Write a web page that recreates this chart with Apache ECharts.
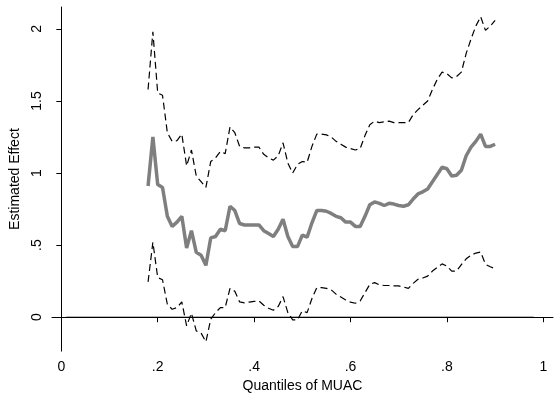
<!DOCTYPE html>
<html>
<head>
<meta charset="utf-8">
<script src="https://cdn.jsdelivr.net/npm/echarts@6/dist/echarts.min.js"></script>
<style>
html,body{margin:0;padding:0;background:#fff;}
#c{width:557px;height:398px;}
</style>
</head>
<body>
<div id="c"></div>
<script>
var quantiles = [0.18,0.19,0.20,0.21,0.22,0.23,0.24,0.25,0.26,0.27,0.28,0.29,0.30,0.31,0.32,0.33,0.34,0.35,0.36,0.37,0.38,0.39,0.40,0.41,0.42,0.43,0.44,0.45,0.46,0.47,0.48,0.49,0.50,0.51,0.52,0.53,0.54,0.55,0.56,0.57,0.58,0.59,0.60,0.61,0.62,0.63,0.64,0.65,0.66,0.67,0.68,0.69,0.70,0.71,0.72,0.73,0.74,0.75,0.76,0.77,0.78,0.79,0.80,0.81,0.82,0.83,0.84,0.85,0.86,0.87,0.88,0.89,0.90];
var effect = [0.91,1.25,0.92,0.90,0.70,0.63,0.66,0.70,0.48,0.60,0.45,0.43,0.36,0.55,0.56,0.61,0.60,0.77,0.74,0.65,0.64,0.64,0.64,0.64,0.60,0.58,0.56,0.61,0.68,0.56,0.49,0.49,0.57,0.555,0.655,0.74,0.74,0.735,0.72,0.70,0.69,0.66,0.66,0.63,0.63,0.70,0.78,0.80,0.79,0.775,0.79,0.785,0.775,0.77,0.78,0.82,0.855,0.87,0.89,0.94,0.99,1.04,1.03,0.98,0.985,1.02,1.12,1.18,1.22,1.27,1.185,1.185,1.20];
var upper = [1.58,1.98,1.555,1.54,1.28,1.22,1.225,1.27,1.05,1.16,0.98,0.94,0.90,1.08,1.105,1.15,1.135,1.32,1.28,1.185,1.175,1.175,1.18,1.18,1.13,1.105,1.09,1.12,1.21,1.07,1.00,1.06,1.08,1.075,1.185,1.27,1.27,1.265,1.25,1.22,1.20,1.18,1.17,1.16,1.17,1.26,1.335,1.36,1.35,1.355,1.36,1.35,1.35,1.35,1.35,1.405,1.44,1.47,1.50,1.58,1.65,1.70,1.69,1.66,1.67,1.70,1.83,1.93,2.02,2.085,1.99,2.02,2.06];
var lower = [0.245,0.52,0.275,0.26,0.09,0.055,0.067,0.106,-0.06,0.028,-0.095,-0.11,-0.17,-0.014,0.032,0.067,0.067,0.20,0.18,0.106,0.10,0.105,0.11,0.113,0.083,0.062,0.048,0.074,0.143,0.032,-0.018,-0.018,0.044,0.032,0.13,0.205,0.205,0.20,0.19,0.16,0.14,0.12,0.105,0.097,0.113,0.17,0.228,0.24,0.225,0.22,0.22,0.217,0.217,0.21,0.20,0.235,0.263,0.272,0.285,0.32,0.345,0.37,0.355,0.32,0.32,0.365,0.405,0.43,0.445,0.452,0.367,0.35,0.337];
var zeroLineX = [0.01, 0.98];
var zeroLineY = [0, 0];
var xTicks = [0, 0.2, 0.4, 0.6, 0.8, 1];
var yTicks = [0, 0.5, 1, 1.5, 2];

function pairs(xs, ys){ return xs.map(function(x,i){ return [x, ys[i]]; }); }
function fmt(v){
  var s = String(Math.round(v*10)/10);
  if (s.indexOf('0.') === 0) s = s.slice(1);
  return s;
}
var font = 'Liberation Sans, Arial, Helvetica, sans-serif';
var chart = echarts.init(document.getElementById('c'), null, {renderer:'canvas'});
chart.setOption({
  animation: false,
  backgroundColor: '#ffffff',
  grid: {left: 52, right: 4, top: 7, bottom: 46, containLabel: false},
  xAxis: {
    type: 'value', min: -0.0193, max: 1.0201,
    name: 'Quantiles of MUAC', nameLocation: 'middle', nameGap: 25,
    nameTextStyle: {fontFamily: font, fontSize: 14, color: '#000'},
    axisLine: {show: true, lineStyle: {color: '#000', width: 1}},
    axisTick: {show: true, length: 5, lineStyle: {color: '#000'}, customValues: xTicks},
    axisLabel: {fontFamily: font, fontSize: 14, color: '#000', margin: 9, customValues: xTicks, formatter: fmt},
    splitLine: {show: false}
  },
  yAxis: {
    type: 'value', min: -0.235, max: 2.152,
    name: 'Estimated Effect', nameLocation: 'middle', nameGap: 22, nameRotate: 90,
    nameTextStyle: {fontFamily: font, fontSize: 14, color: '#000'},
    axisLine: {show: true, lineStyle: {color: '#000', width: 1}},
    axisTick: {show: true, length: 5, lineStyle: {color: '#000'}, customValues: yTicks},
    axisLabel: {fontFamily: font, fontSize: 14, color: '#000', margin: 8, rotate: 90, customValues: yTicks, formatter: fmt},
    splitLine: {show: false}
  },
  series: [
    {type: 'line', data: pairs(zeroLineX, zeroLineY), symbol: 'none', silent: true,
     lineStyle: {color: '#000', width: 1}},
    {type: 'line', data: pairs(quantiles, upper), symbol: 'none',
     lineStyle: {color: '#000', width: 1.2, type: [7, 4]}},
    {type: 'line', data: pairs(quantiles, lower), symbol: 'none',
     lineStyle: {color: '#000', width: 1.2, type: [7, 4]}},
    {type: 'line', data: pairs(quantiles, effect), symbol: 'none',
     lineStyle: {color: '#7f7f7f', width: 3.5}}
  ]
});
</script>
</body>
</html>
